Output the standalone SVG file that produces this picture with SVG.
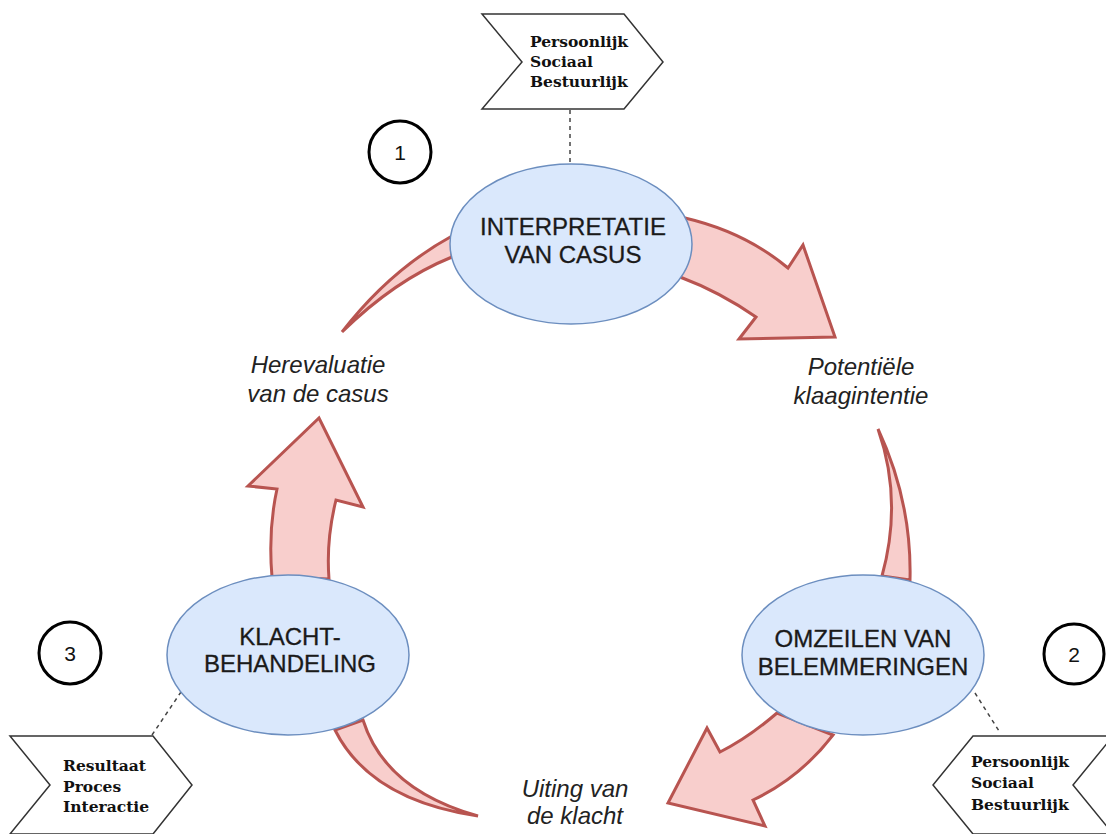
<svg xmlns="http://www.w3.org/2000/svg" width="1106" height="834" viewBox="0 0 1106 834">
<style>
.arrow{fill:#f8cecc;stroke:#b85450;stroke-width:3;stroke-linejoin:miter}
.node ellipse{fill:#dae8fc;stroke:#6c8ebf;stroke-width:1.5}
.node text{font-family:"Liberation Sans",Arial,sans-serif;font-size:24px;fill:#1a1a1a;text-anchor:middle;stroke:#1a1a1a;stroke-width:0.3}
.lbl{font-family:"Liberation Sans",Arial,sans-serif;font-size:24px;font-style:italic;fill:#222;text-anchor:middle}
.num circle{fill:#fff;stroke:#000;stroke-width:3}
.num text{font-family:"Liberation Sans",Arial,sans-serif;font-size:21px;fill:#111;text-anchor:middle}
.chev polygon{fill:#fff;stroke:#333;stroke-width:1.5}
.chev text{font-family:"DejaVu Serif","Liberation Serif",serif;font-size:15.5px;font-weight:bold;fill:#111}
.dash{stroke:#444;stroke-width:1.5;stroke-dasharray:4 4;fill:none}
</style>
<g id="connectors">
<line class="dash" x1="570" y1="110" x2="570" y2="163"/>
<line class="dash" x1="152" y1="735" x2="181" y2="692"/>
<line class="dash" x1="975" y1="693" x2="999" y2="731"/>
<path id="arrow-top-right" class="arrow" d="M685,218 Q745,232 788,268 L803,245 L835,337 L739,339 L756,317 Q720,292 680,277 Z"/>
<path id="arrow-right" class="arrow" d="M878,429 Q912,502 910,580 L882,576 Q903,500 878,429 Z"/>
<path id="arrow-bottom-right" class="arrow" d="M777,713 Q748,738 720,752 L707,728 L668,803 L765,826 L753,800 Q800,778 833,735 Z"/>
<path id="arrow-bottom-left" class="arrow" d="M335,730 Q370,800 478,816 Q385,790 363,720 Z"/>
<path id="arrow-left" class="arrow" d="M272,577 Q268,530 277,489 L248,486 L319,418 L363,507 L336,500 Q326,540 329,579 Z"/>
<path id="arrow-top-left" class="arrow" d="M342,332 Q390,270 452,236 L452,257 Q395,280 342,332 Z"/>
</g>
<g id="node-interpretatie" class="node">
<ellipse cx="571" cy="244" rx="121" ry="80"/>
<text x="573" y="235">INTERPRETATIE</text>
<text x="573" y="263">VAN CASUS</text>
</g>
<g id="node-omzeilen" class="node">
<ellipse cx="863" cy="655" rx="121" ry="80"/>
<text x="863" y="647">OMZEILEN VAN</text>
<text x="863" y="675">BELEMMERINGEN</text>
</g>
<g id="node-klacht" class="node">
<ellipse cx="288" cy="655" rx="121" ry="80"/>
<text x="290" y="645">KLACHT-</text>
<text x="290" y="672">BEHANDELING</text>
</g>
<g id="label-herevaluatie">
<text class="lbl" x="318" y="373">Herevaluatie</text>
<text class="lbl" x="318" y="402">van de casus</text>
</g>
<g id="label-potentiele">
<text class="lbl" x="861" y="375">Potentiële</text>
<text class="lbl" x="861" y="404">klaagintentie</text>
</g>
<g id="label-uiting">
<text class="lbl" x="575" y="797">Uiting van</text>
<text class="lbl" x="575" y="824">de klacht</text>
</g>
<g id="num-1" class="num">
<circle cx="400" cy="152" r="31"/>
<text x="400" y="160">1</text>
</g>
<g id="num-2" class="num">
<circle cx="1074" cy="654" r="30"/>
<text x="1074" y="662">2</text>
</g>
<g id="num-3" class="num">
<circle cx="70" cy="653" r="31"/>
<text x="70" y="661">3</text>
</g>
<g id="chevron-top" class="chev">
<polygon points="482,14 624,14 663,62 624,109 482,109 522,62"/>
<text x="530" y="47">Persoonlijk</text>
<text x="530" y="67">Sociaal</text>
<text x="530" y="87">Bestuurlijk</text>
</g>
<g id="chevron-bottom-left" class="chev">
<polygon points="10,736 153,736 192,785 153,834 10,834 50,785"/>
<text x="63" y="771">Resultaat</text>
<text x="63" y="792">Proces</text>
<text x="63" y="812">Interactie</text>
</g>
<g id="chevron-bottom-right" class="chev">
<polygon points="973,736 1113,736 1073,785 1113,834 973,834 933,785"/>
<text x="971" y="767">Persoonlijk</text>
<text x="971" y="788">Sociaal</text>
<text x="971" y="810">Bestuurlijk</text>
</g>
</svg>
